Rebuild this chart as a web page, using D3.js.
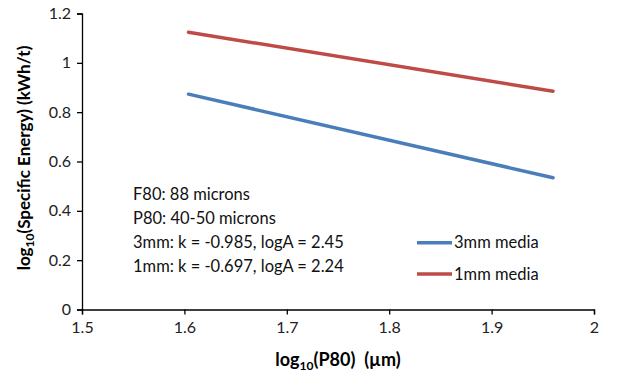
<!DOCTYPE html>
<html>
<head>
<meta charset="utf-8">
<script src="https://cdn.jsdelivr.net/npm/d3@7"></script>
<style>
  body { margin: 0; background: #fff; }
  svg { font-family: Lato, "Open Sans", sans-serif; }
</style>
</head>
<body>
<svg id="chart" width="622" height="375"></svg>
<script>
const xTicks = [1.5, 1.6, 1.7, 1.8, 1.9, 2];
const yTicks = [0, 0.2, 0.4, 0.6, 0.8, 1, 1.2];
const logP80 = [1.604, 1.96];
const media3mm = [0.873, 0.534];
const media1mm = [1.124, 0.885];
const seriesNames = ["3mm media", "1mm media"];
const seriesColors = ["#4a7ebb", "#be4b48"];
const notes = [
  "F80: 88 microns",
  "P80: 40-50 microns",
  "3mm: k = -0.985, logA = 2.45",
  "1mm: k = -0.697, logA = 2.24"
];

const svg = d3.select("#chart");

const x = d3.scaleLinear().domain([1.5, 2]).range([82, 594]);
const y = d3.scaleLinear().domain([0, 1.2]).range([309.5, 13.5]);

// axes
const xAxis = svg.append("g")
  .attr("transform", `translate(0,${y(0)})`)
  .call(d3.axisBottom(x).tickValues(xTicks).tickSize(5).tickPadding(7)
    .tickFormat(d3.format("")));
const yAxis = svg.append("g")
  .attr("transform", `translate(${x(1.5)},0)`)
  .call(d3.axisLeft(y).tickValues(yTicks).tickSize(5).tickPadding(6)
    .tickFormat(d3.format("")));

[xAxis, yAxis].forEach((g) => {
  g.select(".domain").attr("stroke", "#000").attr("stroke-width", 1.3);
  g.selectAll(".tick line").attr("stroke", "#000").attr("stroke-width", 1.3);
  g.selectAll(".tick text")
    .attr("fill", "#222")
    .attr("font-size", 16)
    .attr("font-family", "Lato, sans-serif");
});

// series
const line = d3.line()
  .x((d, i) => x(logP80[i]))
  .y((d) => y(d));

[media3mm, media1mm].forEach((vals, i) => {
  svg.append("path")
    .datum(vals)
    .attr("d", line)
    .attr("fill", "none")
    .attr("stroke", seriesColors[i])
    .attr("stroke-width", 3.5)
    .attr("stroke-linecap", "round");
});

// notes
svg.append("g").selectAll("text")
  .data(notes)
  .enter().append("text")
  .attr("x", 133)
  .attr("y", (d, i) => 199.5 + i * 24.3)
  .attr("font-size", 16.5)
  .attr("fill", "#111")
  .text((d) => d);

// legend
const legend = svg.append("g").selectAll("g")
  .data(seriesNames)
  .enter().append("g")
  .attr("transform", (d, i) => `translate(417,${242.7 + i * 31.3})`);
legend.append("line")
  .attr("x1", 0).attr("x2", 35)
  .attr("stroke", (d, i) => seriesColors[i])
  .attr("stroke-width", 3.5);
legend.append("text")
  .attr("x", 37).attr("y", 5.5)
  .attr("font-size", 16.5)
  .attr("fill", "#111")
  .text((d) => d);

// axis titles
const xTitle = svg.append("text")
  .attr("x", 338).attr("y", 366)
  .attr("text-anchor", "middle")
  .attr("font-size", 18)
  .attr("font-weight", "bold")
  .style("white-space", "pre");
xTitle.append("tspan").text("log");
xTitle.append("tspan").attr("font-size", 12).attr("dy", 4).text("10");
xTitle.append("tspan").attr("dy", -4).text("(P80)  (µm)");

const yTitle = svg.append("text")
  .attr("transform", "translate(30,158) rotate(-90)")
  .attr("text-anchor", "middle")
  .attr("font-size", 17)
  .attr("font-weight", "bold");
yTitle.append("tspan").text("log");
yTitle.append("tspan").attr("font-size", 12).attr("dy", 4).text("10");
yTitle.append("tspan").attr("dy", -4).text("(Specific Energy) (kWh/t)");
</script>
</body>
</html>
